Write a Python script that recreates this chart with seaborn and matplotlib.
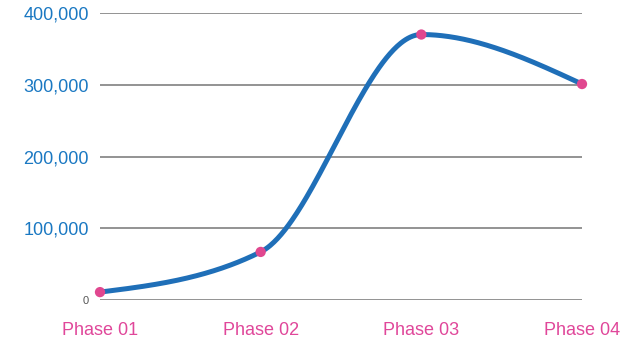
import numpy as np
import pandas as pd
import matplotlib
matplotlib.use("Agg")
import matplotlib.pyplot as plt
import seaborn as sns
from matplotlib.ticker import FuncFormatter

phases = ["Phase 01", "Phase 02", "Phase 03", "Phase 04"]
values = [11000, 67000, 370000, 301000]
ytick_vals = [0, 100000, 200000, 300000, 400000]

def monotone_x(x, y, xs):
    # d3 curveMonotoneX-style cubic Hermite smoothing
    x = np.asarray(x, float); y = np.asarray(y, float)
    h = np.diff(x); d = np.diff(y) / h
    n = len(x); m = np.zeros(n)
    for k in range(1, n - 1):
        p = (d[k-1]*h[k] + d[k]*h[k-1]) / (h[k-1] + h[k])
        m[k] = (np.sign(d[k-1]) + np.sign(d[k])) * min(abs(d[k-1]), abs(d[k]), 0.5*abs(p))
    m[0] = (3*d[0] - m[1]) / 2
    m[-1] = (3*d[-1] - m[-2]) / 2
    out = np.empty_like(xs)
    for i, xv in enumerate(xs):
        k = min(np.searchsorted(x, xv, side="right") - 1, n - 2)
        t = (xv - x[k]) / h[k]
        h00 = 2*t**3 - 3*t**2 + 1; h10 = t**3 - 2*t**2 + t
        h01 = -2*t**3 + 3*t**2; h11 = t**3 - t**2
        out[i] = h00*y[k] + h10*h[k]*m[k] + h01*y[k+1] + h11*h[k]*m[k+1]
    return out

xpos = np.arange(len(phases))
xs = np.linspace(0, len(phases) - 1, 400)
curve = pd.DataFrame({"x": xs, "y": monotone_x(xpos, values, xs)})
pts = pd.DataFrame({"x": xpos, "y": values})

sns.set_theme(style="white")
plt.rcParams["font.family"] = ["Liberation Sans", "DejaVu Sans"]

fig = plt.figure(figsize=(6.28, 3.41), dpi=100)
ax = fig.add_axes([100/628, 1 - 300/341, 482/628, 287/341])

for v in ytick_vals:
    ax.axhline(v, color="#8a8a8a", lw=1.3, zorder=1)

sns.lineplot(data=curve, x="x", y="y", ax=ax, color="#1f6fb8", lw=3.6,
             zorder=3, clip_on=False)
sns.scatterplot(data=pts, x="x", y="y", ax=ax, color="#e0478f", s=55,
                edgecolor="none", zorder=4, clip_on=False)

ax.set_xlim(0, len(phases) - 1)
ax.set_ylim(0, 400000)
ax.set_xticks(xpos)
ax.set_xticklabels(phases, color="#e0479a", fontsize=13)
ax.set_yticks(ytick_vals)
ax.yaxis.set_major_formatter(FuncFormatter(lambda v, p: f"{int(v):,}"))
for lab, v in zip(ax.get_yticklabels(), ytick_vals):
    if v == 0:
        lab.set_fontsize(8)
        lab.set_color("#555555")
    else:
        lab.set_fontsize(13)
        lab.set_color("#1a78c2")
ax.tick_params(axis="y", length=0, pad=8)
ax.tick_params(axis="x", length=0, pad=16)
ax.set_xlabel("")
ax.set_ylabel("")
for s in ax.spines.values():
    s.set_visible(False)

fig.savefig("out.png", dpi=100, facecolor="white")
